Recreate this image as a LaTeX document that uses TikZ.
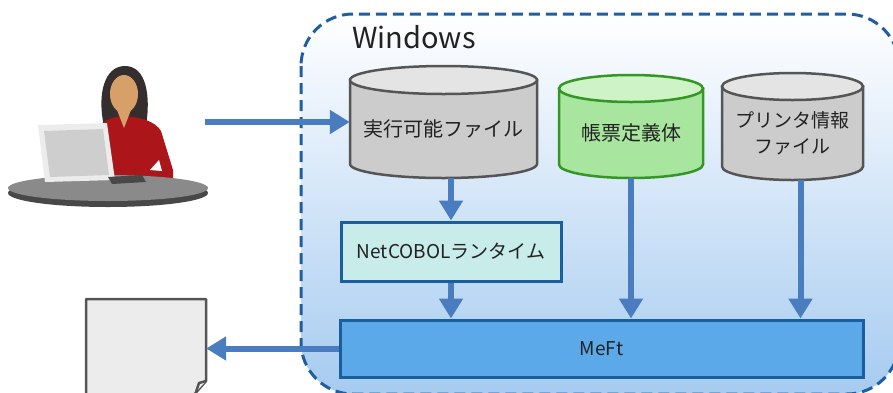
\documentclass[tikz,border=0pt]{standalone}
\usepackage{fontspec}
\setmainfont{Noto Sans CJK JP}
\usetikzlibrary{arrows.meta}
\definecolor{wincolor0001}{RGB}{31,95,160}
\definecolor{wincolor0002}{RGB}{74,124,192}
\definecolor{wincolor0003}{RGB}{85,85,85}
\definecolor{wincolor0004}{RGB}{204,204,204}
\definecolor{wincolor0005}{RGB}{228,228,228}
\definecolor{wincolor0006}{RGB}{52,150,36}
\definecolor{wincolor0007}{RGB}{168,230,160}
\definecolor{wincolor0008}{RGB}{206,243,198}
\definecolor{wincolor0009}{RGB}{200,236,234}
\definecolor{wincolor0010}{RGB}{26,94,158}
\definecolor{wincolor0011}{RGB}{92,169,234}
\definecolor{wincolor0012}{RGB}{166,203,240}
\definecolor{wincolor0013}{RGB}{222,236,250}
\definecolor{wincolor0014}{RGB}{236,236,236}
\definecolor{wincolor0015}{RGB}{138,138,138}
\definecolor{wincolor0016}{RGB}{72,72,72}
\definecolor{wincolor0017}{RGB}{236,236,236}
\definecolor{wincolor0018}{RGB}{206,206,206}
\definecolor{wincolor0019}{RGB}{52,46,46}
\definecolor{wincolor0020}{RGB}{214,160,104}
\definecolor{wincolor0021}{RGB}{172,22,26}
\definecolor{wincolor0022}{RGB}{34,34,34}

\begin{document}
\begin{tikzpicture}[yscale=-1
,wstyle0/.style={color=wincolor0001,line width=3pt,dash pattern=on 11pt off 6pt,rounded corners=52pt}
,wstyle1/.style={color=wincolor0002,line width=6pt,-{Triangle[width=23pt,length=20pt]}}
,wstyle2/.style={color=wincolor0003,fill=wincolor0004,line width=2.5pt}
,wstyle3/.style={color=wincolor0003,fill=wincolor0005,line width=2.5pt}
,wstyle4/.style={color=wincolor0006,fill=wincolor0007,line width=2.5pt}
,wstyle5/.style={color=wincolor0006,fill=wincolor0008,line width=2.5pt}
,wstyle6/.style={color=wincolor0003,fill=wincolor0014,line width=2.5pt,line join=round}
,wstyle7/.style={inner sep=0pt,text=wincolor0022,font=\fontsize{19pt}{26pt}\selectfont,align=center}
,wstyle8/.style={wstyle7,draw=wincolor0010,line width=3pt}
]
\useasboundingbox (0pt,0pt) rectangle (893pt,392pt);
\clip (0pt,0pt) rectangle (893pt,392pt);
\draw[wstyle0,top color=white,middle color=wincolor0013,bottom color=wincolor0012] (301pt,14pt) rectangle (899pt,394pt);
\node[wstyle7,font=\fontsize{29pt}{32pt}\selectfont,anchor=base west] (winlbl) at (352pt,48pt) {Windows};
\fill[wincolor0019] (104pt,126pt) .. controls (97pt,95pt) and (104pt,66pt) .. (125pt,66pt) .. controls (146pt,66pt) and (151pt,95pt) .. (146pt,126pt) -- cycle;
\fill[wincolor0021] (94pt,186pt) -- (96pt,131pt) .. controls (100pt,121pt) and (112pt,117pt) .. (124pt,116pt) .. controls (140pt,117pt) and (155pt,121pt) .. (161pt,131pt) -- (173pt,170pt) -- (173pt,186pt) -- cycle;
\fill[wincolor0020] (117pt,110pt) -- (131pt,110pt) -- (124pt,128pt) -- cycle;
\fill[wincolor0020] (124pt,94pt) ellipse[x radius=14pt,y radius=19pt];
\fill[white] (150pt,170pt) -- (159pt,160pt) -- (162pt,171pt) -- cycle;
\fill[wincolor0016] (108pt,193pt) ellipse[x radius=100pt,y radius=14pt];
\fill[wincolor0015] (108pt,188pt) ellipse[x radius=100pt,y radius=13pt];
\fill[wincolor0017] (38pt,125pt) -- (107pt,123pt) -- (115pt,180pt) -- (45pt,182pt) -- cycle;
\fill[wincolor0018] (44pt,131pt) -- (103pt,129pt) -- (109pt,175pt) -- (50pt,177pt) -- cycle;
\fill[wincolor0016] (108pt,177pt) -- (142pt,175pt) -- (146pt,182pt) -- (112pt,184pt) -- cycle;
\draw[wstyle2] (350pt,80pt) -- (350pt,164pt) arc[start angle=180,end angle=0,x radius=93.5pt,y radius=14pt] -- (537pt,80pt) -- cycle;
\draw[wstyle3] (443.5pt,80pt) ellipse[x radius=93.5pt,y radius=14pt];
\draw[wstyle4] (559pt,88.5pt) -- (559pt,164.5pt) arc[start angle=180,end angle=0,x radius=72pt,y radius=13.5pt] -- (703pt,88.5pt) -- cycle;
\draw[wstyle5] (631pt,88.5pt) ellipse[x radius=72pt,y radius=13.5pt];
\draw[wstyle2] (722pt,86.5pt) -- (722pt,166.5pt) arc[start angle=180,end angle=0,x radius=70.5pt,y radius=13.5pt] -- (863pt,86.5pt) -- cycle;
\draw[wstyle3] (792.5pt,86.5pt) ellipse[x radius=70.5pt,y radius=13.5pt];
\draw[wstyle6] (86pt,299pt) -- (206pt,299pt) -- (206pt,381pt) -- (193pt,396pt) -- (86pt,396pt) -- cycle;
\draw[wstyle6] (206pt,381pt) -- (199pt,383pt) -- (196pt,392pt);
\node[wstyle7,font=\fontsize{20pt}{26pt}\selectfont,minimum width=187pt,minimum height=98pt] (exe) at (443.5pt,129pt) {実行可能ファイル};
\node[wstyle7,font=\fontsize{20pt}{26pt}\selectfont,minimum width=144pt,minimum height=89.5pt] (form) at (631pt,133pt) {帳票定義体};
\node[wstyle7,minimum width=141pt,minimum height=93.5pt] (prt) at (792.5pt,133pt) {プリンタ情報\\ファイル};
\node[wstyle8,fill=wincolor0009,minimum width=220pt,minimum height=59pt] (rt) at (451pt,251.5pt) {NetCOBOLランタイム};
\node[wstyle8,fill=wincolor0011,minimum width=523pt,minimum height=57pt] (mft) at (601.5pt,348.5pt) {MeFt};
\node[minimum width=120pt,minimum height=97pt,inner sep=0pt] (doc) at (146pt,347.5pt) {};
\coordinate (user) at (205pt,122pt);
\draw[wstyle1] (user) -- (user -| exe.west);
\draw[wstyle1] (rt.north |- exe.south) -- (rt.north);
\draw[wstyle1] (rt.south) -- (rt.south |- mft.north);
\draw[wstyle1] (form.south) -- (form.south |- mft.north);
\draw[wstyle1] ([xshift=8pt]prt.south) -- ([xshift=8pt]prt.south |- mft.north);
\draw[wstyle1] (mft.west) -- (mft.west -| doc.east);
\end{tikzpicture}
\end{document}
